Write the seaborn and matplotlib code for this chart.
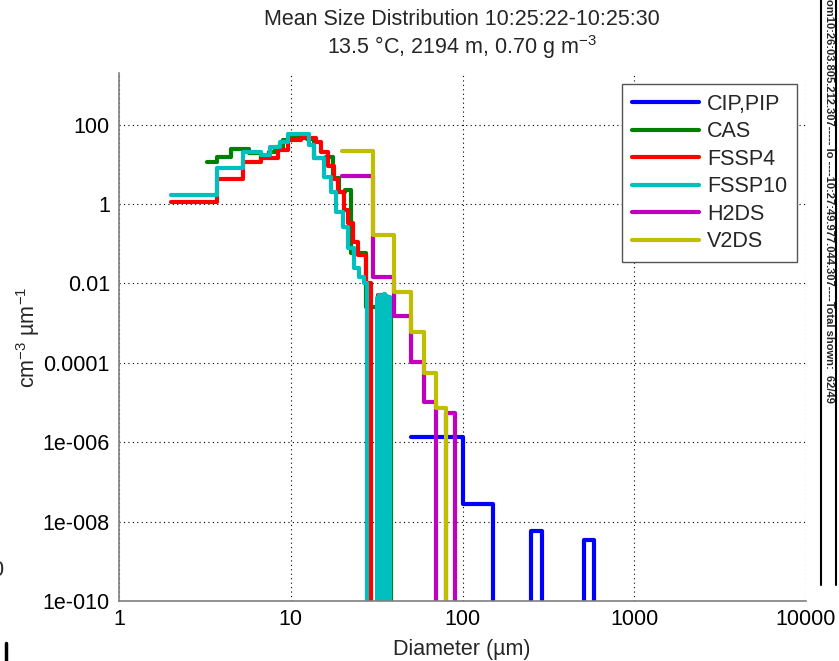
import numpy as np
import pandas as pd
import matplotlib
matplotlib.use("Agg")
import matplotlib.pyplot as plt
from matplotlib.lines import Line2D
from matplotlib.ticker import FixedLocator, FixedFormatter, LogLocator, NullLocator, NullFormatter
import seaborn as sns

# ---- probe size distributions: bin edges (um) and mean concentration (cm^-3 um^-1)
cip_edges = [50, 100, 150, 250, 290, 510, 580, 650]
cip_vals = [1.36e-6, 2.8e-8, 0, 5.9e-9, 0, 3.5e-9, 0]

cas_edges = [3.27, 3.74, 4.46, 5.68, 6.68, 7.43, 8.06, 8.98, 9.73, 11.0, 12.5,
             13.6, 16.0, 17.6, 19.0, 20.6, 22.4, 27.5, 32.3, 38.4, 42.0]
cas_vals = [11.6, 15.5, 25, 19, 15.5, 21, 28, 42, 50, 50, 44,
            14.6, 15.5, 4.5, 2.0, 2.2, 0.057, 2.5e-3, 2.0e-3, 0]

fssp4_edges = [2.0, 3.7, 5.3, 6.7, 8.4, 9.7, 11.4, 14.0, 15.0, 16.5, 17.8,
               18.8, 20.4, 21.5, 23.0, 24.7, 27.5, 29.4, 32.3, 33.6, 36.0]
fssp4_vals = [1.1, 4.3, 11.5, 14.5, 23, 42, 47, 37, 21, 9.2, 4.3,
              2.0, 0.70, 0.33, 0.11, 0.051, 0.0105, 0, 5.0e-3, 0]

fssp10_edges = [2.0, 3.7, 5.3, 6.7, 7.6, 8.7, 9.6, 12.7, 13.6, 15.6, 17.1,
                18.3, 20.2, 21.5, 23.3, 25.0, 26.7, 27.8, 31.8, 32.3, 32.8,
                33.3, 33.8, 34.3, 34.8, 35.3, 35.8, 36.3, 36.8, 37.3, 37.9, 40.0]
fssp10_vals = [1.7, 8.1, 21, 17, 28, 37, 59, 31, 14.6, 4.8, 2.0,
               0.63, 0.26, 0.077, 0.025, 0.0142, 0.010, 0, 4.4e-3, 0, 5.2e-3,
               0, 4.6e-3, 0, 5.4e-3, 0, 4.8e-3, 0, 4.2e-3, 4.6e-3, 0]

h2ds_edges = [20, 30, 40, 50, 60, 70, 80, 90, 100]
h2ds_vals = [5.2, 0.0147, 1.53e-3, 1.06e-4, 1.04e-5, 0, 5.5e-6, 0]

v2ds_edges = [20, 30, 40, 50, 60, 70, 80, 90]
v2ds_vals = [22, 0.169, 6.2e-3, 6.1e-4, 5.6e-5, 7.3e-6, 0]

probes = ["CIP,PIP", "CAS", "FSSP4", "FSSP10", "H2DS", "V2DS"]
colors = ["#0000FF", "#008000", "#FF0000", "#00BFBF", "#BF00BF", "#BFBF00"]

x_ticks = [1, 10, 100, 1000, 10000]
x_ticklabels = ["1", "10", "100", "1000", "10000"]
y_ticks = [1e-10, 1e-8, 1e-6, 1e-4, 1e-2, 1, 100]
y_ticklabels = ["1e-010", "1e-008", "1e-006", "0.0001", "0.01", "1", "100"]

title_line1 = "Mean Size Distribution 10:25:22-10:25:30"
title_line2 = "13.5 \u00b0C, 2194 m, 0.70 g m$^{-3}$"
side_text = "om10:26:03.805.212.307----- lo ----10:27:49.977.044.307----Total shown:  62/49"

# ---- long-form table for seaborn (stairs: last value repeated at the final edge)
series = [(cip_edges, cip_vals), (cas_edges, cas_vals), (fssp4_edges, fssp4_vals),
          (fssp10_edges, fssp10_vals), (h2ds_edges, h2ds_vals), (v2ds_edges, v2ds_vals)]
frames = []
for name, (edges, vals) in zip(probes, series):
    frames.append(pd.DataFrame({"Diameter": edges,
                                "conc": list(vals) + [vals[-1]],
                                "probe": name}))
df = pd.concat(frames, ignore_index=True)

sns.set_theme(style="white")
plt.rcParams["font.family"] = ["Liberation Sans", "DejaVu Sans"]
plt.rcParams["mathtext.fontset"] = "custom"
plt.rcParams["mathtext.rm"] = "Liberation Sans"
plt.rcParams["mathtext.it"] = "Liberation Sans:italic"
plt.rcParams["mathtext.default"] = "regular"

FS = 15.5
W, H = 839, 661
fig = plt.figure(figsize=(W / 100, H / 100), dpi=100)
fig.patch.set_facecolor("white")
ax = fig.add_axes([119 / W, (H - 601) / H, 687 / W, 528 / H])

sns.lineplot(data=df, x="Diameter", y="conc", hue="probe", hue_order=probes,
             palette=colors, estimator=None, sort=False, drawstyle="steps-post",
             linewidth=3, ax=ax, legend=False)

ax.set_xscale("log")
ax.set_yscale("log")
ax.set_xlim(1, 10000)
ax.set_ylim(1e-10, 2000)

ax.xaxis.set_major_locator(FixedLocator(x_ticks))
ax.xaxis.set_major_formatter(FixedFormatter(x_ticklabels))
ax.xaxis.set_minor_locator(LogLocator(base=10, subs=np.arange(2, 10), numticks=20))
ax.xaxis.set_minor_formatter(NullFormatter())
ax.yaxis.set_major_locator(FixedLocator(y_ticks))
ax.yaxis.set_major_formatter(FixedFormatter(y_ticklabels))
ax.yaxis.set_minor_locator(NullLocator())

ax.tick_params(axis="both", which="major", direction="in", length=4.5, width=1,
               color="#808080", labelsize=FS, labelcolor="black")
ax.tick_params(axis="x", which="minor", direction="in", length=3, width=1, color="#808080")
ax.tick_params(axis="x", which="major", pad=5.5)
ax.tick_params(axis="y", which="major", pad=6.5)

ax.grid(True, which="major", color="black", linestyle=(0, (1, 3)), linewidth=0.8)
ax.set_axisbelow(True)
for side in ["top", "right"]:
    ax.spines[side].set_visible(False)
for side in ["left", "bottom"]:
    ax.spines[side].set_color("#808080")
    ax.spines[side].set_linewidth(1.2)

ax.set_xlabel("")
ax.set_ylabel("")

handles = [Line2D([0], [0], color=c, lw=3) for c in colors]
leg = ax.legend(handles, probes, loc="upper right", bbox_to_anchor=(0.987, 0.979),
                borderaxespad=0, fontsize=FS, frameon=True, fancybox=False,
                handlelength=3.1, handletextpad=0.4, labelspacing=0.3,
                borderpad=0.45)
leg.get_frame().set_edgecolor("#555555")
leg.get_frame().set_linewidth(1.0)
leg.get_frame().set_facecolor("white")
leg.get_frame().set_alpha(1)

# titles and axis labels
fig.text(462 / W, 1 - 25 / H, title_line1, ha="center", va="baseline", fontsize=FS)
fig.text(462 / W, 1 - 54 / H, title_line2, ha="center", va="baseline", fontsize=FS)
fig.text(462 / W, 1 - 655 / H, "Diameter (\u00b5m)", ha="center", va="baseline", fontsize=FS)
fig.text(28 / W, 1 - 337 / H, "cm$^{-3}$ \u00b5m$^{-1}$", rotation=90,
         ha="center", va="center", fontsize=FS)

# side annotation strip
fig.text(828.5 / W, 1 + 1 / H, side_text, rotation=-90, ha="center", va="top",
         fontsize=8, fontweight="bold")
fig.add_artist(Line2D([821 / W, 821 / W], [1, 1 - 585 / H], color="black", lw=1.5,
                      transform=fig.transFigure))
fig.add_artist(Line2D([836 / W, 836 / W], [1, 1 - 585 / H], color="black", lw=1.5,
                      transform=fig.transFigure))

# fragments at the left edge
fig.text(3.5 / W, 1 - 570 / H, "0", ha="right", va="center", fontsize=FS)
fig.add_artist(Line2D([5.5 / W, 5.5 / W], [1 - 643 / H, 0], color="black", lw=2.5,
                      transform=fig.transFigure))

fig.savefig("out.png", dpi=100, facecolor="white")
